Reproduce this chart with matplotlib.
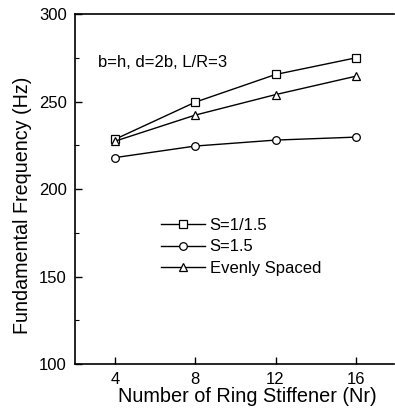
import matplotlib
matplotlib.use('Agg')
import matplotlib.pyplot as plt

plt.rcParams['font.family'] = ['Liberation Sans', 'DejaVu Sans']

# data
n_rings = [4, 8, 12, 16]
freq_s_inv = [228.5, 249.7, 265.5, 275.0]   # S=1/1.5
freq_s = [218.0, 224.6, 228.0, 229.7]       # S=1.5
freq_even = [227.4, 242.3, 254.0, 264.5]    # evenly spaced
labels = ['S=1/1.5', 'S=1.5', 'Evenly Spaced']

fig = plt.figure(figsize=(3.95, 4.16), dpi=100)
ax = fig.add_axes([0.19, 0.125, 0.807, 0.841])

style = dict(color='black', lw=1.0, markersize=5.5, markerfacecolor='white',
             markeredgecolor='black', markeredgewidth=0.9)
ax.plot(n_rings, freq_s_inv, marker='s', label=labels[0], **style)
ax.plot(n_rings, freq_s, marker='o', label=labels[1], **style)
ax.plot(n_rings, freq_even, marker='^', label=labels[2], **style)

ax.set_xlim(2, 17.9)
ax.set_ylim(100, 300)
ax.set_xticks(n_rings)
ax.set_yticks([100, 150, 200, 250, 300])
ax.set_yticks([125, 175, 225, 275], minor=True)
ax.tick_params(direction='in', labelsize=12, length=5, width=1, pad=6)
ax.tick_params(which='minor', direction='in', length=3, width=0.8)
ax.spines['right'].set_visible(False)
for s in ['left', 'bottom', 'top']:
    ax.spines[s].set_linewidth(1.2)

ax.set_xlabel('Number of Ring Stiffener (Nr)', fontsize=14.3)
ax.set_ylabel('Fundamental Frequency (Hz)', fontsize=14.2)
# labels sit a bit off-centre in the original
ax.xaxis.set_label_coords(0.542, -0.066)
ax.yaxis.set_label_coords(-0.135, 0.453)

ax.text(3.15, 272.6, 'b=h, d=2b, L/R=3', fontsize=12, va='center')

ax.legend(loc='upper left', bbox_to_anchor=(0.25, 0.437), frameon=False,
          fontsize=12, handlelength=2.6, handletextpad=0.3, labelspacing=0.4,
          borderaxespad=0)

fig.savefig('out.png', dpi=100)
